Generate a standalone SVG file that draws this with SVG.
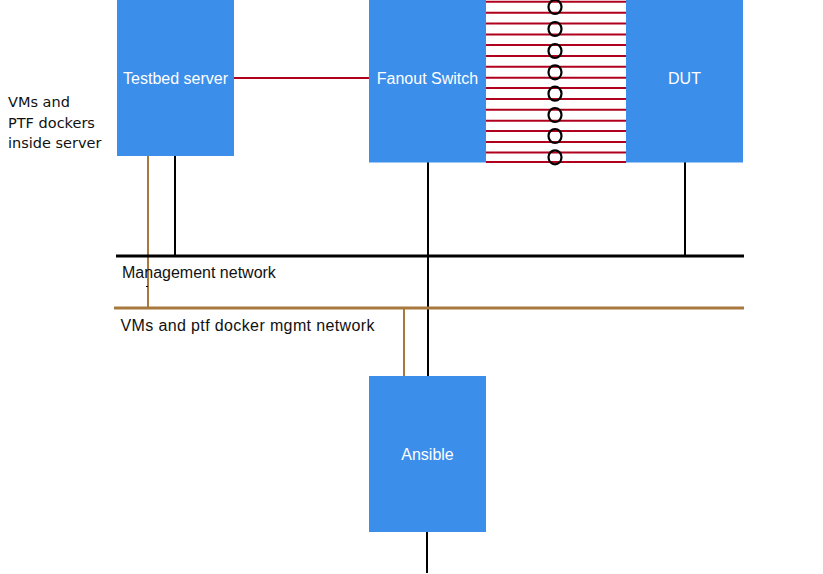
<svg xmlns="http://www.w3.org/2000/svg" width="823" height="574" viewBox="0 0 823 574">
<style>
.box{fill:#3b8eea}
.lbl{font-family:"Liberation Sans",Arial,sans-serif;font-size:16px;fill:#ffffff;text-anchor:middle}
.txt{font-family:"Liberation Sans",Arial,sans-serif;font-size:16px;fill:#111111}
.side{font-family:"DejaVu Sans",Verdana,sans-serif;font-size:14.5px;fill:#111111}
.blk{stroke:#000;stroke-width:2;fill:none}
.net{stroke:#000;stroke-width:3;fill:none}
.brn{stroke:#a8783f;stroke-width:2;fill:none}
.bnet{stroke:#a8783f;stroke-width:3;fill:none}
.red{stroke:#b0001e;stroke-width:2;fill:none}
.ring{stroke:#000;stroke-width:2.2;fill:#fff;fill-opacity:0}
</style>
<rect width="823" height="574" fill="#ffffff"/>
<g id="connectors">
<line class="red" x1="234" y1="78" x2="369" y2="78"/>
<g id="links">
<line class="red" x1="486" y1="1.7" x2="626" y2="1.7"/>
<line class="red" x1="486" y1="12.7" x2="626" y2="12.7"/>
<line class="red" x1="486" y1="23.5" x2="626" y2="23.5"/>
<line class="red" x1="486" y1="34.5" x2="626" y2="34.5"/>
<line class="red" x1="486" y1="45" x2="626" y2="45"/>
<line class="red" x1="486" y1="56" x2="626" y2="56"/>
<line class="red" x1="486" y1="66.7" x2="626" y2="66.7"/>
<line class="red" x1="486" y1="77.7" x2="626" y2="77.7"/>
<line class="red" x1="486" y1="88" x2="626" y2="88"/>
<line class="red" x1="486" y1="99" x2="626" y2="99"/>
<line class="red" x1="486" y1="109.7" x2="626" y2="109.7"/>
<line class="red" x1="486" y1="120.7" x2="626" y2="120.7"/>
<line class="red" x1="486" y1="131" x2="626" y2="131"/>
<line class="red" x1="486" y1="142" x2="626" y2="142"/>
<line class="red" x1="486" y1="152.5" x2="626" y2="152.5"/>
<line class="red" x1="486" y1="162" x2="626" y2="162"/>
<ellipse class="ring" cx="555" cy="7" rx="6.5" ry="7"/>
<ellipse class="ring" cx="555" cy="29" rx="6.5" ry="7"/>
<ellipse class="ring" cx="555" cy="51" rx="6.5" ry="7"/>
<ellipse class="ring" cx="555" cy="72.3" rx="6.5" ry="7"/>
<ellipse class="ring" cx="555" cy="93.7" rx="6.5" ry="7"/>
<ellipse class="ring" cx="555" cy="115" rx="6.5" ry="7"/>
<ellipse class="ring" cx="555" cy="136" rx="6.5" ry="7"/>
<ellipse class="ring" cx="555" cy="157.3" rx="6.5" ry="7"/>
</g>
<line class="blk" x1="175" y1="156" x2="175" y2="256"/>
<line class="brn" x1="148" y1="156" x2="148" y2="308"/>
<line class="blk" x1="428" y1="162" x2="428" y2="376"/>
<line class="blk" x1="685" y1="162" x2="685" y2="256"/>
<line class="brn" x1="404" y1="308" x2="404" y2="376"/>
<line class="blk" x1="427" y1="532" x2="427" y2="573"/>
<line x1="146" y1="286.5" x2="148" y2="286.5" stroke="#000" stroke-width="1"/>
<line class="net" x1="116" y1="256" x2="744" y2="256"/>
<line class="bnet" x1="114" y1="308" x2="744" y2="308"/>
</g>
<g id="testbed-server">
<rect class="box" x="117" y="0" width="117" height="156"/>
<text class="lbl" x="175.5" y="84">Testbed server</text>
</g>
<g id="fanout-switch">
<rect class="box" x="369" y="0" width="117" height="162.5"/>
<text class="lbl" x="427.5" y="84">Fanout Switch</text>
</g>
<g id="dut">
<rect class="box" x="626" y="0" width="117" height="162.5"/>
<text class="lbl" x="684.5" y="84">DUT</text>
</g>
<g id="ansible">
<rect class="box" x="369" y="376" width="117" height="156"/>
<text class="lbl" x="427.5" y="460">Ansible</text>
</g>
<g id="labels">
<text class="side" x="8" y="107">VMs and</text>
<text class="side" x="8" y="127.5">PTF dockers</text>
<text class="side" x="8" y="148">inside server</text>
<text class="txt" x="122" y="277.5">Management network</text>
<text class="txt" x="120.5" y="330.5" textLength="254" lengthAdjust="spacing">VMs and ptf docker mgmt network</text>
</g>
</svg>
